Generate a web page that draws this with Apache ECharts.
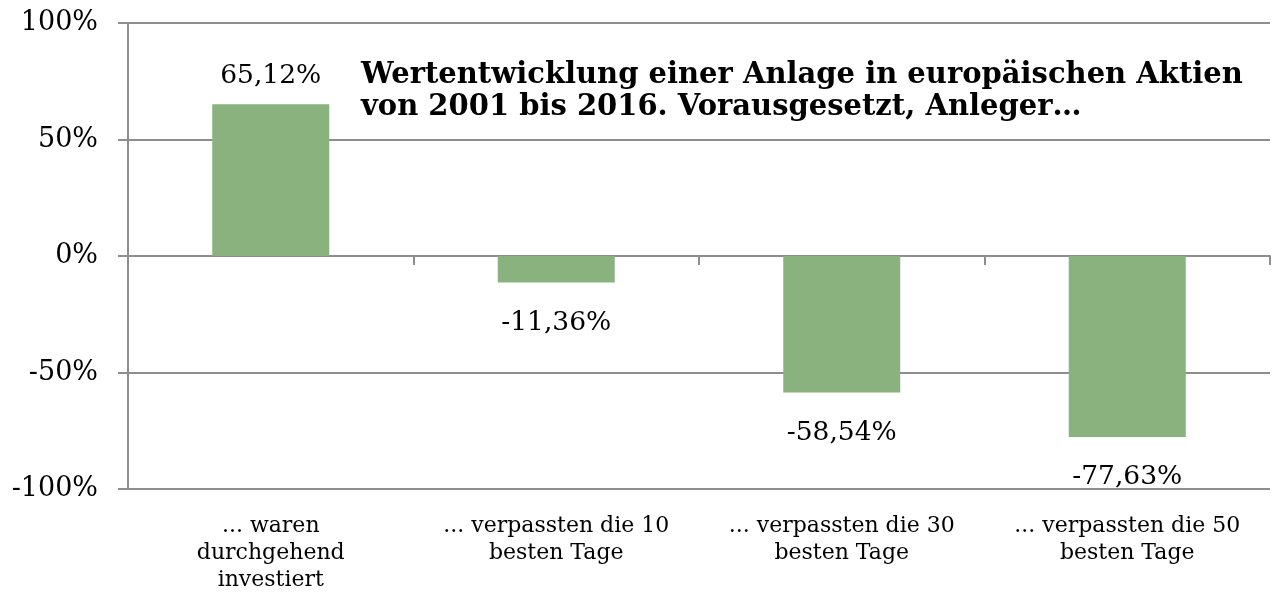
<!DOCTYPE html>
<html>
<head>
<meta charset="utf-8">
<script src="https://cdn.jsdelivr.net/npm/echarts@6/dist/echarts.min.js"></script>
<style>html,body{margin:0;padding:0;background:#fff}#c{width:1274px;height:605px}</style>
</head>
<body>
<div id="c"></div>
<script>
const categories = ["... waren\ndurchgehend\ninvestiert", "... verpassten die 10\nbesten Tage", "... verpassten die 30\nbesten Tage", "... verpassten die 50\nbesten Tage"];
const values = [65.12, -11.36, -58.54, -77.63];
const yTicks = [-100, -50, 0, 50, 100];
const titleText = "Wertentwicklung einer Anlage in europäischen Aktien\nvon 2001 bis 2016. Vorausgesetzt, Anleger…";

const FONT = "DejaVu Serif";
const gridColor = "#8e8e8e";
const chart = echarts.init(document.getElementById('c'), null, {renderer: 'canvas'});
const fmt = v => v.toFixed(2).replace('.', ',') + '%';
chart.setOption({
  animation: false,
  title: {
    text: titleText, left: 356, top: 54,
    textStyle: {fontFamily: FONT, fontWeight: 'bold', fontSize: 29, color: '#000', lineHeight: 32}
  },
  grid: {left: 128, right: 4, top: 23, bottom: 116, containLabel: false},
  xAxis: [{
    type: 'category', data: categories, position: 'bottom',
    axisLine: {show: false, onZero: false}, axisTick: {show: false},
    axisLabel: {fontFamily: FONT, fontSize: 22, color: '#000', lineHeight: 27, margin: 24, interval: 0}
  }, {
    type: 'category', data: categories, position: 'bottom',
    axisLine: {show: true, onZero: true, lineStyle: {color: gridColor, width: 2}},
    axisTick: {show: true, length: 9, lineStyle: {color: gridColor, width: 2}},
    axisLabel: {show: false}
  }],
  yAxis: {
    type: 'value', min: -100, max: 100, interval: 50,
    axisLine: {show: true, onZero: false, lineStyle: {color: gridColor, width: 2}},
    axisTick: {show: true, length: 10, lineStyle: {color: gridColor, width: 2}},
    splitLine: {show: true, lineStyle: {color: gridColor, width: 2}},
    axisLabel: {fontFamily: FONT, fontSize: 27, color: '#000', margin: 30,
      formatter: v => yTicks.includes(v) ? v + '%' : ''}
  },
  series: [{
    type: 'bar', xAxisIndex: 0, barWidth: 117,
    itemStyle: {color: '#89b27f'},
    data: values.map(v => ({
      value: v,
      label: {show: true, position: v >= 0 ? 'top' : 'bottom', distance: v >= 0 ? 15 : 27,
        formatter: p => fmt(p.value), fontFamily: FONT, fontSize: 26.5, color: '#000'}
    }))
  }]
});
</script>
</body>
</html>
